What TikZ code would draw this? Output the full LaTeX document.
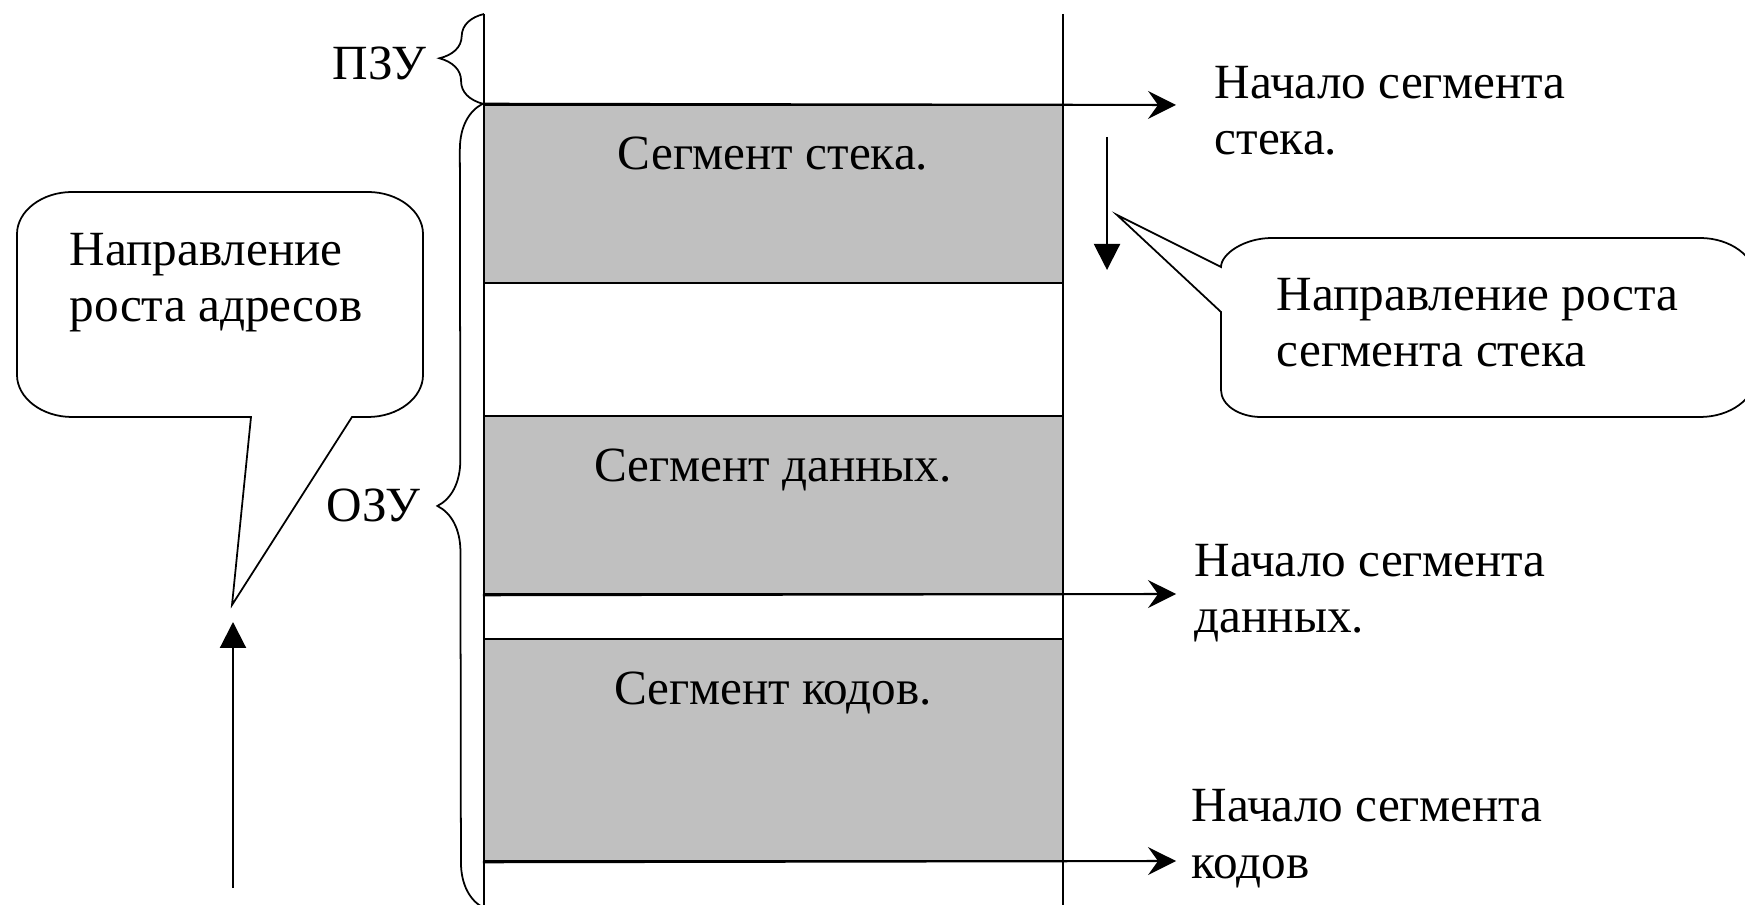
\documentclass[tikz,border=0pt]{standalone}
\usepackage{fontspec}
\setmainfont{Liberation Serif}
\usepackage{tikz}
\usetikzlibrary{arrows.meta,calc,positioning,decorations.pathreplacing}
\definecolor{segfill}{HTML}{C0C0C0}
\tikzset{
	seg/.style={draw, fill=segfill, line width=0.7pt, inner sep=0pt, minimum width=57.9mm},
	txt/.style={inner sep=0pt, align=left, font=\fontsize{14}{16}\selectfont},
	brc/.style={decorate, decoration={brace, amplitude=#1}, line width=0.5pt},
	ptr/.style={->, line width=0.6pt, >={Stealth[length=2.8mm, width=2.8mm, inset=1mm]}},
	growarr/.style={-{Triangle[length=2.6mm, width=2.6mm]}, line width=0.6pt},
	bubble/.style={draw, line width=0.5pt}
}

\begin{document}
\begin{tikzpicture}[x=1mm, y=-1mm]
	\useasboundingbox (0,0) rectangle (174.5,90.5);
	% Place nodes
	\node [seg, minimum height=17.8mm] (stack) at (77.35,19.4) {};
	\node [seg, minimum height=17.8mm] (data) at (77.35,50.5) {};
	\node [seg, minimum height=22.2mm] (code) at (77.35,75.0) {};
	\node [txt, anchor=base] (stacktxt) at (77.3,17.0) {Сегмент стека.};
	\node [txt, anchor=base] (datatxt) at (77.3,48.2) {Сегмент данных.};
	\node [txt, anchor=base] (codetxt) at (77.3,70.5) {Сегмент кодов.};
	\node [txt, anchor=base west] (stackstart) at (121.4,15.5) {Начало сегмента\\стека.};
	\node [txt, anchor=base west] (datastart) at (119.4,63.3) {Начало сегмента\\данных.};
	\node [txt, anchor=base west] (codestart) at (119.1,87.8) {Начало сегмента\\кодов};
	\node [txt, anchor=base east] (rom) at (42.7,8.0) {ПЗУ};
	\node [txt, anchor=base east] (ram) at (42.1,52.2) {ОЗУ};
	\node [txt, anchor=base west] (addrnote) at (6.9,32.2) {Направление\\роста адресов};
	\node [txt, anchor=base west] (stacknote) at (127.6,36.7) {Направление роста\\сегмента стека};
	
	% Coordinates
	\coordinate (walltl) at (48.4,1.4);
	\coordinate (wallbl) at (48.4,90.8);
	\coordinate (walltr) at (106.3,1.4);
	\coordinate (wallbr) at (106.3,90.8);
	\coordinate (stackend) at (117.6,10.5);
	\coordinate (dataend) at (117.6,59.4);
	\coordinate (codeend) at (117.6,86.1);
	\coordinate (downtop) at (110.7,13.7);
	\coordinate (downbot) at (110.7,27.0);
	\coordinate (uptop) at (23.3,62.2);
	\coordinate (upbot) at (23.3,88.8);
	\coordinate (addrtip) at (23.2,60.5);
	\coordinate (stacktip) at (111.7,21.5);
	
	% Draw edges
	\draw [line width=0.7pt] (walltl) -- (wallbl);
	\draw [line width=0.7pt] (walltr) -- (wallbr);
	\draw [ptr] (stack.north west) -- (stackend);
	\draw [ptr] (data.south west) -- (dataend);
	\draw [ptr] (code.south west) -- (codeend);
	\draw [brc=4.4mm] (stack.north west) -- (walltl);
	\draw [brc=4.6mm] (wallbl) -- (stack.north west);
	\draw [growarr] (downtop) -- (downbot);
	\draw [growarr] (upbot) -- (uptop);
	
	% Callouts
	\draw [bubble] (addrtip) -- (25.1,41.7) -- (7.2,41.7) .. controls (4.2,41.7) and (1.7,39.8) .. (1.7,37.5)
		-- (1.7,23.4) .. controls (1.7,21.1) and (4.2,19.2) .. (7.2,19.2)
		-- (36.8,19.2) .. controls (39.8,19.2) and (42.3,21.1) .. (42.3,23.4)
		-- (42.3,37.5) .. controls (42.3,39.8) and (39.8,41.7) .. (36.8,41.7) -- (35.2,41.7) -- cycle;
	\draw [bubble] (stacktip) -- (122.1,26.7) .. controls (122.1,25.4) and (124.4,23.8) .. (127.2,23.8)
		-- (170.0,23.8) .. controls (173.0,23.8) and (175.5,25.6) .. (175.5,27.8)
		-- (175.5,37.7) .. controls (175.5,39.9) and (173.0,41.7) .. (170.0,41.7)
		-- (126.1,41.7) .. controls (123.9,41.7) and (122.1,40.5) .. (122.1,39.0) -- (122.1,31.2) -- cycle;
\end{tikzpicture}
\end{document}
